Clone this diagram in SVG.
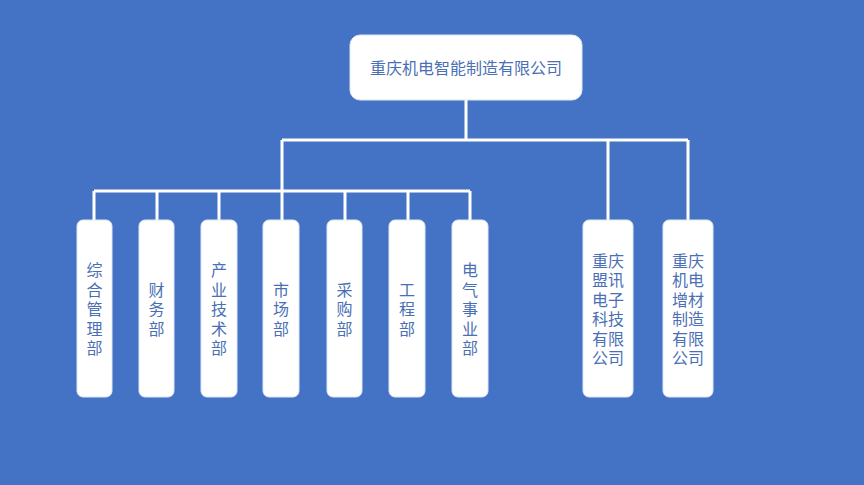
<svg xmlns="http://www.w3.org/2000/svg" width="864" height="485" viewBox="0 0 864 485">
<style>
.box{fill:#ffffff;stroke:#dfe7f5;stroke-width:1}
.t{font-family:"Noto Sans CJK SC","Liberation Sans",sans-serif;font-size:16px;fill:#4a6fb5;text-anchor:middle}
.ln{stroke:#ffffff;stroke-width:3;fill:none}
</style>
<rect width="864" height="485" fill="#4472c4"/>
<g id="connectors">
<path class="ln" d="M466 100V140M282 140H688M282 140V191M608 140V220M688 140V220M94 191H470M94 191V220M157 191V220M219 191V220M282 191V220M345 191V220M408 191V220M470 191V220"/>
</g>
<g id="root">
<rect class="box" x="350" y="35" width="232" height="65" rx="10"/>
<text class="t" x="466" y="74">重庆机电智能制造有限公司</text>
</g>
<g id="n1"><rect class="box" x="77" y="220" width="35" height="177" rx="6"/>
<text class="t" x="94.5"><tspan x="94.5" y="276">综</tspan><tspan x="94.5" y="296">合</tspan><tspan x="94.5" y="315">管</tspan><tspan x="94.5" y="335">理</tspan><tspan x="94.5" y="354">部</tspan></text></g>
<g id="n2"><rect class="box" x="139" y="220" width="35" height="177" rx="6"/>
<text class="t"><tspan x="156.5" y="296">财</tspan><tspan x="156.5" y="315">务</tspan><tspan x="156.5" y="335">部</tspan></text></g>
<g id="n3"><rect class="box" x="201" y="220" width="36" height="177" rx="6"/>
<text class="t"><tspan x="219" y="276">产</tspan><tspan x="219" y="296">业</tspan><tspan x="219" y="315">技</tspan><tspan x="219" y="335">术</tspan><tspan x="219" y="354">部</tspan></text></g>
<g id="n4"><rect class="box" x="263" y="220" width="36" height="177" rx="6"/>
<text class="t"><tspan x="281" y="296">市</tspan><tspan x="281" y="315">场</tspan><tspan x="281" y="335">部</tspan></text></g>
<g id="n5"><rect class="box" x="327" y="220" width="35" height="177" rx="6"/>
<text class="t"><tspan x="344.5" y="296">采</tspan><tspan x="344.5" y="315">购</tspan><tspan x="344.5" y="335">部</tspan></text></g>
<g id="n6"><rect class="box" x="389" y="220" width="36" height="177" rx="6"/>
<text class="t"><tspan x="407" y="296">工</tspan><tspan x="407" y="315">程</tspan><tspan x="407" y="335">部</tspan></text></g>
<g id="n7"><rect class="box" x="452" y="220" width="36" height="177" rx="6"/>
<text class="t"><tspan x="470" y="276">电</tspan><tspan x="470" y="296">气</tspan><tspan x="470" y="315">事</tspan><tspan x="470" y="335">业</tspan><tspan x="470" y="354">部</tspan></text></g>
<g id="n8"><rect class="box" x="583" y="220" width="50" height="177" rx="6"/>
<text class="t"><tspan x="608" y="267">重庆</tspan><tspan x="608" y="286">盟讯</tspan><tspan x="608" y="306">电子</tspan><tspan x="608" y="325">科技</tspan><tspan x="608" y="345">有限</tspan><tspan x="608" y="364">公司</tspan></text></g>
<g id="n9"><rect class="box" x="663" y="220" width="50" height="177" rx="6"/>
<text class="t"><tspan x="688" y="267">重庆</tspan><tspan x="688" y="286">机电</tspan><tspan x="688" y="306">增材</tspan><tspan x="688" y="325">制造</tspan><tspan x="688" y="345">有限</tspan><tspan x="688" y="364">公司</tspan></text></g>
</svg>
